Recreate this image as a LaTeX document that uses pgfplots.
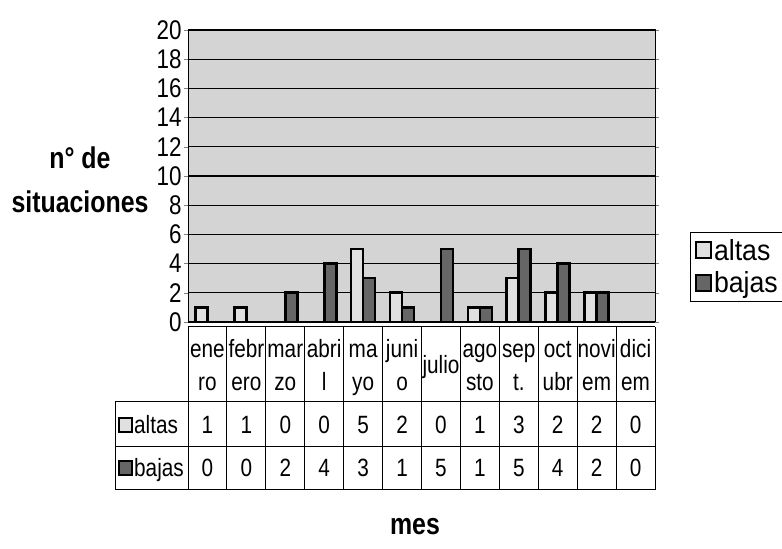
\documentclass[border=0pt]{standalone}
\usepackage{pgfplots}
\pgfplotsset{compat=1.18}
\usepackage{fontspec}
\setmainfont{Liberation Sans}[FakeStretch=0.83]
\newfontfamily\legfont{Liberation Sans}[FakeStretch=0.92]
\definecolor{wall}{gray}{0.83}
\definecolor{alta}{gray}{0.88}
\definecolor{baja}{gray}{0.40}
\begin{document}
\begin{tikzpicture}[x=1pt,y=1pt]
\useasboundingbox (0,0) rectangle (782,549);
\begin{axis}[
  at={(188pt,227pt)}, anchor=south west, scale only axis,
  width=467pt, height=292pt,
  xmin=-0.5, xmax=11.5, ymin=0, ymax=20,
  ytick={0,2,...,20}, xtick=\empty,
  ymajorgrids, grid style={black, line width=1.1pt},
  axis background/.style={fill=wall},
  axis line style={black, line width=1pt},
  y tick label style={font=\fontsize{27}{27}\selectfont, xshift=1pt},
  /pgf/number format/assume math mode=true,
  tick align=outside, major tick length=4pt,
  ybar=0pt, bar width=12pt,
  legend style={at={(1.075,0.19)}, anchor=west, draw=black, line width=0.8pt,
    font=\legfont\fontsize{29}{31}\selectfont, row sep=6pt, inner sep=5pt},
  legend cell align=left,
  clip=false,
]
\addplot[fill=alta, draw=black, line width=2.6pt, area legend,
  legend image code/.code={\draw[fill=alta, draw=black, line width=1.6pt] (0pt,-8pt) rectangle (15pt,8pt);}]
  coordinates {(0,1) (1,1) (2,0) (3,0) (4,5) (5,2) (6,0) (7,1) (8,3) (9,2) (10,2) (11,0)};
\addplot[fill=baja, draw=black, line width=2.6pt, area legend,
  legend image code/.code={\draw[fill=baja, draw=black, line width=1.6pt] (0pt,-8pt) rectangle (15pt,8pt);}]
  coordinates {(0,0) (1,0) (2,2) (3,4) (4,3) (5,1) (6,5) (7,1) (8,5) (9,4) (10,2) (11,0)};
\legend{altas,bajas}
\end{axis}
% data table
\begin{scope}[line width=1pt]
\foreach \k in {0,...,12} \draw (188+38.917*\k,222) -- (188+38.917*\k,59);
\draw (188,222) -- (655,222);
\draw (115,147) -- (655,147);
\draw (115,102) -- (655,102);
\draw (115,59) -- (655,59);
\draw (115,147) -- (115,59);
\end{scope}
\tikzset{cell/.style={font=\fontsize{25}{25}\selectfont, anchor=base, inner sep=0pt}}
\foreach \i/\n/\m/\a/\b in {0/ene/ro/1/0, 1/febr/ero/1/0, 2/mar/zo/0/2, 3/abri/l/0/4, 4/ma/yo/5/3, 5/juni/o/2/1, 6/{}/{}/0/5, 7/ago/sto/1/1, 8/sep/t./3/5, 9/oct/ubr/2/4, 10/novi/em/2/2, 11/dici/em/0/0}{
  \node[cell] at (188+38.917*\i+19.46,191) {\n};
  \node[cell] at (188+38.917*\i+19.46,158) {\m};
  \node[cell] at (188+38.917*\i+19.46,115) {\a};
  \node[cell] at (188+38.917*\i+19.46,72) {\b};
}
\node[cell] at (188+38.917*6+19.46,175) {julio};
\draw[fill=alta, line width=1.2pt] (119,117) rectangle (132,131);
\node[cell, anchor=base west] at (134,115) {altas};
\draw[fill=baja, line width=1.2pt] (119,74) rectangle (132,88);
\node[cell, anchor=base west] at (134,72) {bajas};
% titles
\node[font=\bfseries\fontsize{30}{44}\selectfont, align=center] at (80,369) {n° de\\situaciones};
\node[font=\bfseries\fontsize{30}{30}\selectfont] at (415,22) {mes};
\end{tikzpicture}
\end{document}
